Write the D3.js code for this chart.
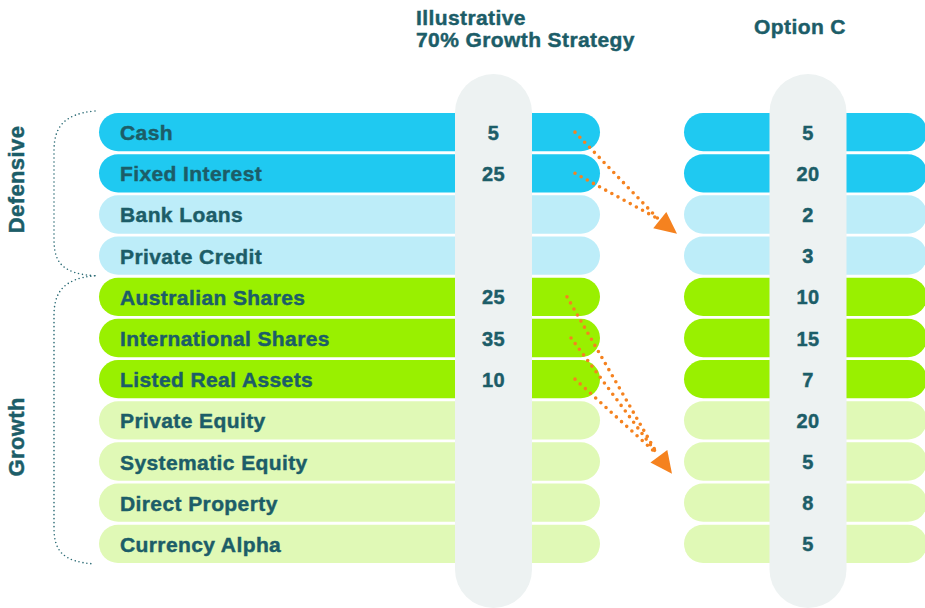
<!DOCTYPE html>
<html>
<head>
<meta charset="utf-8">
<script src="https://cdn.jsdelivr.net/npm/d3@7"></script>
<style>
  body { margin: 0; background: #fff; }
  svg text { font-family: "Liberation Sans", Arial, sans-serif; font-weight: bold; fill: #1c5d68;
    stroke: #1c5d68; stroke-width: 0.45px; letter-spacing: 0.4px; }
</style>
</head>
<body>
<div id="chart"></div>
<script>
// Data
var categories = ["Cash", "Fixed Interest", "Bank Loans", "Private Credit",
  "Australian Shares", "International Shares", "Listed Real Assets",
  "Private Equity", "Systematic Equity", "Direct Property", "Currency Alpha"]
var kinds = ["defCore", "defCore", "defAlt", "defAlt",
  "grCore", "grCore", "grCore", "grAlt", "grAlt", "grAlt", "grAlt"]
var illustrative = [5, 25, null, null, 25, 35, 10, null, null, null, null]
var optionC = [5, 20, 2, 3, 10, 15, 7, 20, 5, 8, 5]
var columnTitles = [["Illustrative", "70% Growth Strategy"], ["Option C"]]
// label = where the side label sits, in row units
var groups = [
  { name: "Defensive", first: "Cash", last: "Private Credit", label: 1.15 },
  { name: "Growth", first: "Australian Shares", last: "Currency Alpha", label: 7.4 }
]
// shifts: which rows move, and where the arrow lands (in row units)
var shifts = [
  { from: ["Cash", "Fixed Interest"], to: 2.47 },
  { from: ["Australian Shares", "International Shares", "Listed Real Assets"], to: 8.3 }
]

var width = 925,
height = 608

var colors = {
  defCore: "#1fc9f1",
  defAlt: "#bdedf9",
  grCore: "#99f000",
  grAlt: "#e0f9b6"
}

var svg = d3.select("#chart").append("svg")
.attr("width", width)
.attr("height", height)

var y = d3.scaleBand()
.domain(categories)
.range([113, 563])
.paddingInner(0.07)

var bw = y.bandwidth()

var rowPos = d3.scaleLinear()
.domain([0, categories.length - 1])
.range([y(categories[0]) + bw / 2, y(categories[categories.length - 1]) + bw / 2])

// two panels: left bars + right bars
var panels = [
  { x0: 99, x1: 600, cx: 493.5, values: illustrative },
  { x0: 684, x1: 927, cx: 808, values: optionC }
]
var capW = 77

panels.forEach(function (p, pi) {
  var g = svg.append("g")

  g.selectAll("rect.bar")
  .data(categories)
  .join("rect")
  .attr("class", "bar")
  .attr("x", p.x0)
  .attr("y", function (d) { return y(d) })
  .attr("width", p.x1 - p.x0)
  .attr("height", bw)
  .attr("rx", bw / 2)
  .attr("fill", function (d, i) { return colors[kinds[i]] })

  g.append("rect")
  .attr("x", p.cx - capW / 2)
  .attr("y", 74)
  .attr("width", capW)
  .attr("height", 534)
  .attr("rx", capW / 2)
  .attr("fill", "#edf2f2")

  g.selectAll("text.val")
  .data(p.values)
  .join("text")
  .attr("class", "val")
  .attr("x", p.cx)
  .attr("y", function (d, i) { return y(categories[i]) + bw / 2 + 7.5 })
  .attr("text-anchor", "middle")
  .attr("font-size", 20)
  .text(function (d) { return d == null ? "" : d })

  var tx = pi === 0 ? 416 : p.cx - 8
  var t = svg.append("text")
  .attr("x", tx)
  .attr("text-anchor", pi === 0 ? "start" : "middle")
  .attr("font-size", 21)
  columnTitles[pi].forEach(function (line, li) {
    t.append("tspan")
    .attr("x", tx)
    .attr("y", pi === 0 ? 25 + li * 22 : 33.5)
    .text(line)
  })
})

// row labels
svg.selectAll("text.lab")
.data(categories)
.join("text")
.attr("class", "lab")
.attr("x", 120)
.attr("y", function (d) { return y(d) + bw / 2 + 8 })
.attr("font-size", 21)
.text(function (d) { return d })

// group braces
groups.forEach(function (gr) {
  var top = y(gr.first) - 2
  var bot = y(gr.last) + bw + 1
  var p = d3.path()
  p.moveTo(95, top)
  p.bezierCurveTo(62, top + 3, 54, top + 18, 54, top + 40)
  p.lineTo(54, bot - 36)
  p.bezierCurveTo(54, bot - 12, 64, bot - 2, 95, bot)
  svg.append("path")
  .attr("d", p.toString())
  .attr("fill", "none")
  .attr("stroke", "#2b6b75")
  .attr("stroke-width", 1.6)
  .attr("stroke-linecap", "round")
  .attr("stroke-dasharray", "0 4")

  svg.append("text")
  .attr("transform", "translate(23.5," + rowPos(gr.label) + ") rotate(-90)")
  .attr("text-anchor", "middle")
  .attr("font-size", 22)
  .text(gr.name)
})

// shift arrows
var orange = "#f5821f"
shifts.forEach(function (s) {
  var n = s.from.length
  var starts = s.from.map(function (c, i) {
    return [575 - (n > 2 ? (n - 1 - i) * 4 : 0), y(c) + bw / 2]
  })
  var tip = [677 - (n > 2 ? 5 : 0), rowPos(s.to)]
  var mx = d3.mean(starts, function (d) { return d[0] })
  var my = d3.mean(starts, function (d) { return d[1] })
  var dx = tip[0] - mx, dy = tip[1] - my
  var len = Math.sqrt(dx * dx + dy * dy)
  var ux = dx / len, uy = dy / len
  var base = [tip[0] - ux * 22, tip[1] - uy * 22]

  svg.selectAll(null)
  .data(starts)
  .join("line")
  .attr("x1", function (d) { return d[0] })
  .attr("y1", function (d) { return d[1] })
  .attr("x2", base[0] - ux * 2)
  .attr("y2", base[1] - uy * 2)
  .attr("stroke", orange)
  .attr("stroke-width", 3.6)
  .attr("stroke-linecap", "round")
  .attr("stroke-dasharray", "0 7")

  var hw = 10.5
  svg.append("path")
  .attr("d", d3.line()([
    tip,
    [base[0] - uy * hw, base[1] + ux * hw],
    [base[0] + uy * hw, base[1] - ux * hw]
  ]) + "Z")
  .attr("fill", orange)
})
</script>
</body>
</html>
